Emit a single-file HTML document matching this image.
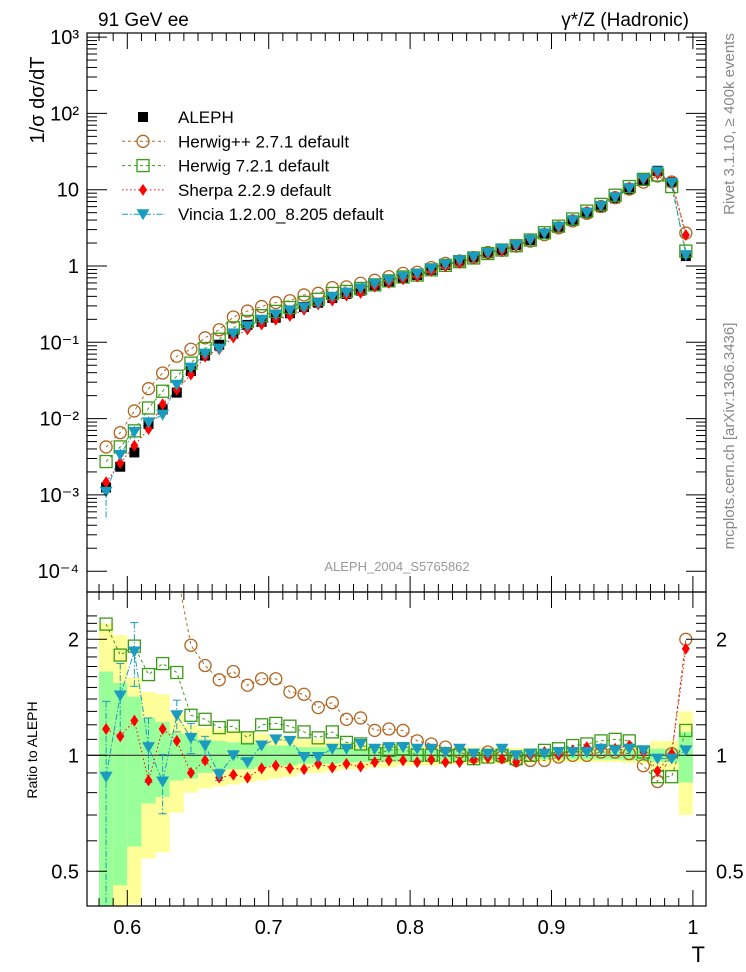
<!DOCTYPE html>
<html><head><meta charset="utf-8"><style>
html,body{margin:0;padding:0;background:#fff;width:746px;height:972px;overflow:hidden;}
svg{display:block;font-family:"Liberation Sans",sans-serif;overflow:hidden;}
</style></head><body>
<svg id="c" width="746" height="972" viewBox="0 0 746 972" xmlns="http://www.w3.org/2000/svg">
<defs>
<clipPath id="clipMain"><rect x="87" y="33" width="619" height="559"/></clipPath>
<clipPath id="clipRatio"><rect x="87" y="592" width="619" height="314"/></clipPath>
</defs>
<g id="bands" clip-path="url(#clipRatio)"></g>
<g id="lines"></g>
<g id="marks"></g>
<rect x="87" y="33" width="619" height="559" fill="none" stroke="#000" stroke-width="1.2"/>
<rect x="87" y="592" width="619" height="314" fill="none" stroke="#000" stroke-width="1.2"/>
<g id="ticks"></g>
<text x="98" y="26" font-size="19">91 GeV ee</text>
<text x="689" y="26" font-size="19" text-anchor="end">γ*/Z (Hadronic)</text>
<text transform="translate(44,100) rotate(-90)" font-size="20" text-anchor="middle">1/σ  dσ/dT</text>
<text transform="translate(37,750) rotate(-90)" font-size="14" text-anchor="middle">Ratio to ALEPH</text>
<text x="705" y="962" font-size="22" text-anchor="end">T</text>
<text x="397" y="571" font-size="13" fill="#999" text-anchor="middle">ALEPH_2004_S5765862</text>
<text transform="translate(734,124) rotate(-90)" font-size="15" fill="#888" text-anchor="middle">Rivet 3.1.10, ≥ 400k events</text>
<text transform="translate(734,436) rotate(-90)" font-size="15" fill="#888" text-anchor="middle">mcplots.cern.ch [arXiv:1306.3436]</text>
<g id="legend"></g>
</svg>
<script>
const tvals=[0.585,0.595,0.605,0.615,0.625,0.635,0.645,0.655,0.665,0.675,0.685,0.695,0.705,0.715,0.725,0.735,0.745,0.755,0.765,0.775,0.785,0.795,0.805,0.815,0.825,0.835,0.845,0.855,0.865,0.875,0.885,0.895,0.905,0.915,0.925,0.935,0.945,0.955,0.965,0.975,0.985,0.995];
const aleph=[0.00125,0.00234,0.0036,0.0085,0.0132,0.0219,0.042,0.067,0.093,0.13,0.169,0.186,0.21,0.24,0.29,0.33,0.38,0.43,0.475,0.56,0.62,0.69,0.76,0.89,1.03,1.14,1.30,1.47,1.62,1.88,2.19,2.65,3.2,3.9,4.9,5.9,7.7,10.1,13.4,17.7,12.5,1.35];
const errInner=[0.65,0.54,0.42,0.25,0.22,0.14,0.13,0.1,0.09,0.08,0.08,0.07,0.06,0.06,0.05,0.05,0.05,0.045,0.04,0.04,0.04,0.04,0.035,0.035,0.03,0.03,0.03,0.03,0.03,0.025,0.025,0.025,0.025,0.025,0.025,0.025,0.025,0.03,0.035,0.04,0.04,0.15];
const errOuter=[1.2,1.05,0.59,0.46,0.44,0.29,0.2,0.18,0.17,0.16,0.15,0.14,0.13,0.12,0.1,0.1,0.09,0.08,0.08,0.07,0.07,0.06,0.06,0.06,0.055,0.05,0.05,0.05,0.05,0.045,0.045,0.04,0.04,0.04,0.04,0.04,0.04,0.045,0.05,0.09,0.09,0.3];
const ratioHerwigPP=[3.4,2.8,3.5,2.9,3.0,3.0,1.93,1.71,1.57,1.65,1.52,1.58,1.58,1.46,1.44,1.33,1.37,1.24,1.25,1.16,1.17,1.16,1.09,1.07,1.05,1.02,0.99,1.02,0.99,0.97,0.97,0.97,0.99,1.0,1.0,1.02,1.02,1.01,0.94,0.855,1.01,2.0];
const ratioHerwig7=[2.19,1.82,1.92,1.62,1.73,1.64,1.27,1.24,1.18,1.19,1.11,1.2,1.21,1.19,1.15,1.11,1.15,1.08,1.07,1.01,1.03,1.04,1.0,1.0,0.99,1.0,0.98,0.99,1.0,0.98,1.0,1.03,1.04,1.06,1.07,1.09,1.10,1.09,1.02,0.88,0.88,1.16];
const ratioSherpa=[1.17,1.12,1.23,0.86,1.17,1.09,0.90,0.97,0.875,0.89,0.875,0.925,0.94,0.925,0.92,0.95,0.93,0.95,0.935,0.96,0.97,0.97,0.96,0.975,0.96,0.96,0.975,0.985,0.98,0.96,1.0,1.02,1.0,1.03,1.05,1.04,1.04,1.06,1.02,0.91,1.01,1.89];
const ratioVincia=[0.88,1.43,1.86,1.05,0.855,1.27,1.11,1.06,0.89,1.0,0.96,1.06,1.10,1.09,0.99,0.99,1.04,1.04,1.07,1.04,1.05,1.05,1.04,1.04,1.02,1.04,1.01,1.01,1.04,1.0,1.01,1.01,1.02,1.02,1.02,1.04,1.03,1.04,1.03,0.98,0.98,1.03];
const vinciaErr=[0.5,0.3,0.35,0.2,0.15,0.12,0.1,0.06,0.03,0,0,0,0,0,0,0,0,0,0,0,0,0,0,0,0,0,0,0,0,0,0,0,0,0,0,0,0,0,0,0,0,0];
const xTickLabels=["0.6","0.7","0.8","0.9","1"];
const xTickVals=[0.6,0.7,0.8,0.9,1.0];
const yTickLabels=["10⁻⁴","10⁻³","10⁻²","10⁻¹","1","10","10²","10³"];
const yTickVals=[1e-4,1e-3,1e-2,1e-1,1,10,100,1000];
const rTickLabels=["0.5","1","2"];
const rTickVals=[0.5,1,2];

const NS="http://www.w3.org/2000/svg";
function X(t){return 127.3+(t-0.6)*1414;}
function Y(v){return 266-76.3*Math.log10(v);}
function R(r){return 755.3-116*Math.log2(r);}
function mk(tag,attrs,parent){const e=document.createElementNS(NS,tag);for(const k in attrs)e.setAttribute(k,attrs[k]);parent.appendChild(e);return e;}
const bands=document.getElementById('bands'),lines=document.getElementById('lines'),marks=document.getElementById('marks'),ticks=document.getElementById('ticks'),legend=document.getElementById('legend');

tvals.forEach((t,i)=>{
  const x0=X(t-0.005),x1=X(t+0.005);
  const lo=Math.max(1-errOuter[i],0.3),hi=1+errOuter[i];
  let b=mk('rect',{x:x0,y:R(hi),width:x1-x0,height:R(lo)-R(hi),fill:'#ffff99'},bands);
  
  
  const lo2=Math.max(1-errInner[i],0.3),hi2=1+errInner[i];
  b=mk('rect',{x:x0,y:R(hi2),width:x1-x0,height:R(lo2)-R(hi2),fill:'#99ff99'},bands);
  
  
});
let ul=mk('line',{x1:87,x2:706,y1:R(1),y2:R(1),stroke:'#333','stroke-width':1.2},bands);



const series=[
 {name:'herwigpp',ratio:ratioHerwigPP,color:'#b0641e',dash:'3,3',shape:'circle',label:'Herwig++ 2.7.1 default'},
 {name:'herwig7',ratio:ratioHerwig7,color:'#3b9a17',dash:'3,3',shape:'square',label:'Herwig 7.2.1 default'},
 {name:'sherpa',ratio:ratioSherpa,color:'#ff0000',dash:'1.5,2.5',shape:'diamond',label:'Sherpa 2.2.9 default'},
 {name:'vincia',ratio:ratioVincia,color:'#1a9cc0',dash:'6,2,1.5,2',shape:'tri',label:'Vincia 1.2.00_8.205 default'}
];
function marker(shape,x,y,color,parent){
  let e;
  if(shape==='circle') e=mk('circle',{cx:x,cy:y,r:6,fill:'none',stroke:color,'stroke-width':1.3},parent);
  else if(shape==='square') e=mk('rect',{x:x-6,y:y-6,width:12,height:12,fill:'none',stroke:color,'stroke-width':1.3},parent);
  else if(shape==='diamond') e=mk('polygon',{points:`${x},${y-6} ${x+4},${y} ${x},${y+6} ${x-4},${y}`,fill:color},parent);
  else if(shape==='tri') e=mk('polygon',{points:`${x-6.5},${y-5} ${x+6.5},${y-5} ${x},${y+6}`,fill:color},parent);
  else if(shape==='box') e=mk('rect',{x:x-5,y:y-5,width:10,height:10,fill:color},parent);
  return e;
}
const gm=mk('g',{'clip-path':'url(#clipMain)'},marks);
const gr=mk('g',{'clip-path':'url(#clipRatio)'},marks);
const lm=mk('g',{'clip-path':'url(#clipMain)'},lines);
const lr=mk('g',{'clip-path':'url(#clipRatio)'},lines);
tvals.forEach((t,i)=>{
  const m=marker('box',X(t),Y(aleph[i]),'#000',gm);
  
  
});
tvals.forEach((t,i)=>{
  const e=vinciaErr[i];if(!e)return;
  const x=X(t),r=ratioVincia[i];
  const lo=Math.max(r-e,0.3),hi=r+e;
  let l=mk('line',{x1:x,x2:x,y1:R(hi),y2:R(lo),stroke:'#1a9cc0','stroke-width':1,'stroke-dasharray':'6,2,1.5,2'},lr);
  
  
  mk('line',{x1:x-4,x2:x+4,y1:R(hi),y2:R(hi),stroke:'#1a9cc0'},lr);
  mk('line',{x1:x-4,x2:x+4,y1:R(lo),y2:R(lo),stroke:'#1a9cc0'},lr);
  const vl=aleph[i]*lo,vh=aleph[i]*hi;
  l=mk('line',{x1:x,x2:x,y1:Y(vh),y2:Y(vl),stroke:'#1a9cc0','stroke-width':1,'stroke-dasharray':'6,2,1.5,2'},lm);
  
  
});
series.forEach(s=>{
  const ptsM=tvals.map((t,i)=>X(t)+','+Y(aleph[i]*s.ratio[i])).join(' ');
  const ptsR=tvals.map((t,i)=>X(t)+','+R(s.ratio[i])).join(' ');
  let pl=mk('polyline',{points:ptsM,fill:'none',stroke:s.color,'stroke-width':1,'stroke-dasharray':s.dash},lm);
  
  
  pl=mk('polyline',{points:ptsR,fill:'none',stroke:s.color,'stroke-width':1,'stroke-dasharray':s.dash},lr);
  
  
  tvals.forEach((t,i)=>{
    let m=marker(s.shape,X(t),Y(aleph[i]*s.ratio[i]),s.color,gm);
    
    
    m=marker(s.shape,X(t),R(s.ratio[i]),s.color,gr);
    
    
  });
});
function ln(x1,y1,x2,y2){mk('line',{x1,y1,x2,y2,stroke:'#000','stroke-width':1},ticks);}
for(let k=58;k<=100;k++){
  const t=k/100,x=X(t);if(x<88||x>705)continue;
  const big=k%10===0,len=big?16:8;
  ln(x,33,x,33+len);ln(x,592,x,592-len);ln(x,592,x,592+len);ln(x,906,x,906-len);
}
xTickVals.forEach((v,i)=>{
  const t=mk('text',{x:X(v),y:934,'font-size':20,'text-anchor':'middle'},ticks);t.textContent=xTickLabels[i];
  
  
});
for(let d=-4;d<=3;d++){
  for(let m=1;m<=9;m++){
    const v=m*Math.pow(10,d),y=Y(v);if(y<33||y>592)continue;
    const len=m===1?20:10;ln(87,y,87+len,y);ln(706,y,706-len,y);
  }
}
yTickVals.forEach((v,i)=>{
  const t=mk('text',{x:79,y:Y(v)+7,'font-size':20,'text-anchor':'end'},ticks);t.textContent=yTickLabels[i];
  
  
});
[0.4,0.5,0.6,0.7,0.8,0.9,1,1.1,1.2,1.3,1.4,1.5,1.6,1.7,1.8,1.9,2,2.1,2.2,2.3].forEach(v=>{
  const y=R(v);if(y<592||y>906)return;const big=(v===0.5||v===1||v===2);const len=big?20:10;
  ln(87,y,87+len,y);ln(706,y,706-len,y);
});
rTickVals.forEach((v,i)=>{
  let t=mk('text',{x:79,y:R(v)+7,'font-size':20,'text-anchor':'end'},ticks);t.textContent=rTickLabels[i];
  
  
  t=mk('text',{x:716,y:R(v)+7,'font-size':20,'text-anchor':'start'},ticks);t.textContent=rTickLabels[i];
  
  
});
const ly0=117,ldy=24.3;
marker('box',143,ly0,'#000',legend);
let lt=mk('text',{x:178,y:ly0+6,'font-size':17},legend);lt.textContent='ALEPH';


series.forEach((s,i)=>{
  const y=ly0+ldy*(i+1);
  mk('line',{x1:122,x2:165,y1:y,y2:y,stroke:s.color,'stroke-dasharray':s.dash},legend);
  marker(s.shape,143,y,s.color,legend);
  const t=mk('text',{x:178,y:y+6,'font-size':17},legend);t.textContent=s.label;
  
  
});
</script>
</body></html>
